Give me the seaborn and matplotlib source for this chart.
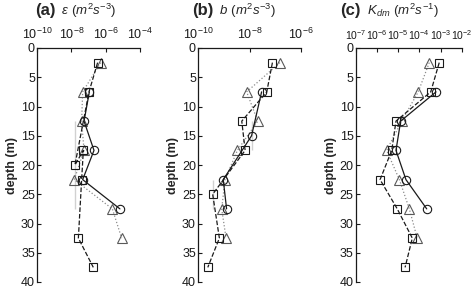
import numpy as np
import pandas as pd
import matplotlib
matplotlib.use("Agg")
import matplotlib.pyplot as plt
import matplotlib.ticker as mticker
import seaborn as sns

# ---- data (log10 values) ----
depth_sq = [2.5, 7.5, 12.5, 17.5, 22.5, 27.5, 32.5, 37.5]
depth_ci = [7.5, 12.5, 17.5, 22.5, 27.5]
depth_tr = [2.5, 7.5, 12.5, 17.5, 22.5, 27.5, 32.5]

eps_sq = [-6.47, -6.97, -7.79, -7.30, -7.40, -7.79, -7.59, -6.72]
eps_ci = [-6.95, -7.26, -6.68, -7.34, -5.17]
eps_tr = [-6.29, -7.34, -7.40, -7.26, -7.83, -5.61, -5.07]

b_sq = [-7.11, -7.33, -8.30, -8.17, -9.43, -9.43, -9.17, -9.62]
b_ci = [-7.53, -7.92, -7.92, -9.02, -8.89]
b_tr = [-6.82, -8.11, -7.68, -8.47, -8.95, -9.08, -8.91]

k_sq = [-3.06, -3.46, -5.10, -5.30, -5.85, -5.04, -4.33, -4.67]
k_ci = [-3.21, -4.88, -5.10, -4.63, -3.65]
k_tr = [-3.53, -4.05, -4.83, -5.54, -4.94, -4.47, -4.10]

panels = [
    ("(a)", r" $\epsilon$ $(m^2s^{-3})$", (-10, -4), [-10, -8, -6, -4], eps_sq, eps_ci, eps_tr),
    ("(b)", r" $b$ $(m^2s^{-3})$", (-10, -6), [-10, -8, -6], b_sq, b_ci, b_tr),
    ("(c)", r" $K_{dm}$ $(m^2s^{-1})$", (-7, -2), [-7, -6, -5, -4, -3, -2], k_sq, k_ci, k_tr),
]

sns.set_theme(style="white")
plt.rcParams['font.family'] = ['Liberation Sans', 'DejaVu Sans']
plt.rcParams['mathtext.fontset'] = 'custom'
plt.rcParams['mathtext.rm'] = 'Liberation Sans'
plt.rcParams['mathtext.it'] = 'Liberation Sans:italic'

fig = plt.figure(figsize=(4.73, 2.89), dpi=100)
lefts = [37, 198, 355.7]
widths = [103, 103, 106]
title_x = [-0.02, -0.06, -0.15]
tick_fs = [9, 9, 7.5]
W, H = 473, 289
top_px, bot_px = 48, 282

for i, (lab, unit, lim, ticks, sq, ci, tr) in enumerate(panels):
    ax = fig.add_axes([lefts[i] / W, 1 - bot_px / H, widths[i] / W, (bot_px - top_px) / H])
    ax.set_xscale('log')
    sns.lineplot(x=np.power(10.0, tr), y=depth_tr, sort=False, ax=ax, color='0.55',
                 linestyle=':', linewidth=0.9, marker='^', markersize=6.5,
                 markerfacecolor='none', markeredgecolor='0.35', markeredgewidth=0.8)
    sns.lineplot(x=np.power(10.0, sq), y=depth_sq, sort=False, ax=ax, color='k',
                 linestyle='--', linewidth=0.9, marker='s', markersize=5.5,
                 markerfacecolor='none', markeredgecolor='k', markeredgewidth=0.8)
    sns.lineplot(x=np.power(10.0, ci), y=depth_ci, sort=False, ax=ax, color='k',
                 linestyle='-', linewidth=0.9, marker='o', markersize=6,
                 markerfacecolor='none', markeredgecolor='k', markeredgewidth=0.8)
    ax.set_xlim(10.0 ** lim[0], 10.0 ** lim[1])
    ax.set_ylim(40, 0)
    ax.xaxis.tick_top()
    ax.set_xticks([10.0 ** t for t in ticks])
    ax.set_xticklabels([r'$10^{%d}$' % t for t in ticks])
    if i == 2:
        ax.xaxis.set_minor_locator(mticker.LogLocator(base=10, subs=np.arange(2, 10)))
        ax.tick_params(axis='x', which='minor', direction='in', length=2, width=0.6, top=True)
    else:
        ax.xaxis.set_minor_locator(mticker.NullLocator())
    ax.set_yticks([0, 5, 10, 15, 20, 25, 30, 35, 40])
    ax.tick_params(axis='both', which='major', direction='in', length=3, width=0.8,
                   labelsize=9, pad=1.5, colors='k')
    ax.tick_params(axis='x', which='major', top=True, bottom=False, pad=4,
                   labelsize=tick_fs[i])
    ax.tick_params(axis='y', left=True, right=False)
    for s in ['right', 'bottom']:
        ax.spines[s].set_visible(False)
    for s in ['left', 'top']:
        ax.spines[s].set_color('k')
        ax.spines[s].set_linewidth(0.9)
    ax.set_xlabel('')
    ax.set_ylabel('depth (m)', fontsize=9, fontweight='bold', labelpad=2)
    ax.text(title_x[i], 1.0 + 37 / 234, lab, transform=ax.transAxes, fontsize=12,
            fontweight='bold', ha='left', va='center')
    off = {0: 0.22, 1: 0.23, 2: 0.23}[i]
    ax.text(title_x[i] + off, 1.0 + 37 / 234, unit, transform=ax.transAxes, fontsize=9.5,
            ha='left', va='center')

fig.savefig('out.png', dpi=100)
